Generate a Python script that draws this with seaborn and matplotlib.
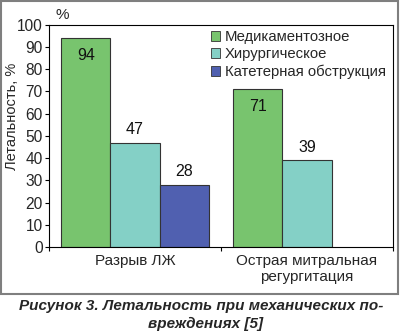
import matplotlib
matplotlib.use("Agg")
import matplotlib.pyplot as plt
import seaborn as sns
import pandas as pd
import numpy as np
from matplotlib.patches import Patch, Rectangle

categories = ["Разрыв ЛЖ", "Острая митральная\nрегургитация"]
series = ["Медикаментозное", "Хирургическое", "Катетерная обструкция"]
values_med = [94, 71]
values_sur = [47, 39]
values_cat = [28, np.nan]
colors = ["#78c46e", "#84d0c6", "#5060b0"]
yticks = [0, 10, 20, 30, 40, 50, 60, 70, 80, 90, 100]

rows = []
for s, vals in zip(series, [values_med, values_sur, values_cat]):
    for c, v in zip(categories, vals):
        rows.append({"cat": c, "series": s, "val": v})
df = pd.DataFrame(rows)

sns.set_theme(style="white")
plt.rcParams["font.family"] = ["Liberation Sans", "DejaVu Sans"]

fig = plt.figure(figsize=(4.0, 3.36), dpi=100)
ax = fig.add_axes([0.1225, 0.265, 0.86, 0.661])

sns.barplot(data=df, x="cat", y="val", hue="series", order=categories,
            hue_order=series, palette=colors, saturation=1, width=0.855, ax=ax,
            edgecolor="#333333", linewidth=0.8, legend=False, errorbar=None)

ax.set_ylim(0, 100)
ax.set_xlim(-0.5, 1.5)
ax.set_yticks(yticks)
ax.set_yticklabels([str(t) for t in yticks], fontsize=11.2)
ax.tick_params(axis="y", direction="out", length=3, width=0.8, color="black", pad=1.5, left=True)
ax.set_xticks([-0.5, 0.5, 1.5])
ax.set_xticklabels(["", "", ""])
ax.set_xticks([0, 1], minor=True)
ax.set_xticklabels(categories, minor=True, fontsize=11)
ax.tick_params(axis="x", which="major", direction="out", length=3, width=0.8, color="black", bottom=True)
ax.tick_params(axis="x", which="minor", length=0, pad=5)
ax.set_xlabel("")
ax.set_ylabel("Летальность, %", fontsize=10.5,
              family=["Liberation Sans Narrow", "Liberation Sans", "DejaVu Sans"])
ax.yaxis.set_label_coords(-0.088, 0.59)
for sp in ax.spines.values():
    sp.set_visible(True)
    sp.set_color("black")
    sp.set_linewidth(0.8)

# value labels
for ci, cont in enumerate(ax.containers):
    for p in cont.patches:
        h = p.get_height()
        if h is None or not np.isfinite(h) or h <= 0:
            continue
        xc = p.get_x() + p.get_width() / 2
        if ci == 0:
            ax.annotate(f"{int(round(h))}", (xc, h), xytext=(0, -12.5), textcoords="offset points",
                        ha="center", va="center", fontsize=11.5, color="#111111")
        else:
            ax.annotate(f"{int(round(h))}", (xc, h), xytext=(0, 9.5), textcoords="offset points",
                        ha="center", va="center", fontsize=11.5, color="#111111")

handles = [Patch(facecolor=c, edgecolor="#333333", linewidth=0.6) for c in colors]
ax.legend(handles, series, loc="upper right", bbox_to_anchor=(1.005, 1.015), frameon=False,
          fontsize=10.7, handlelength=0.65, handleheight=0.65, handletextpad=0.3,
          labelspacing=0.2, borderaxespad=0.2)

fig.text(0.1375, 0.955, "%", fontsize=11, ha="left", va="center")

# frame around chart
fig.patches.append(Rectangle((0.003, 0.125), 0.993, 0.871, transform=fig.transFigure,
                             fill=False, edgecolor="#7f7f7f", linewidth=1.5))

fig.text(0.503, 0.089, "Рисунок 3. Летальность при механических по-", fontsize=11,
         fontweight="heavy", fontstyle="italic", ha="center", va="center")
fig.text(0.513, 0.036, "вреждениях [5]", fontsize=11,
         fontweight="heavy", fontstyle="italic", ha="center", va="center")

fig.savefig("out.png", dpi=100)
